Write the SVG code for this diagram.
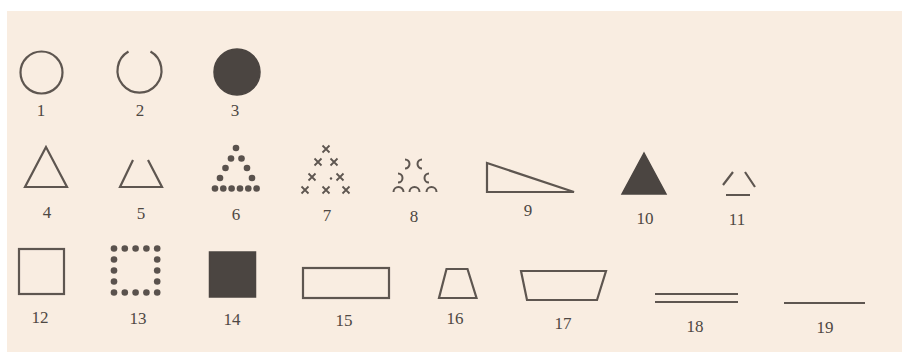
<svg xmlns="http://www.w3.org/2000/svg" width="902" height="356" viewBox="0 0 902 356">
<style>
.o{fill:none;stroke:#5e5650;stroke-width:2.2;stroke-linejoin:miter}
.f{fill:#4b4541;stroke:#4b4541;stroke-width:1.5}
.d{fill:#5a524d}
.x{stroke:#5e5650;stroke-width:1.8;fill:none}
.a{stroke:#5e5650;stroke-width:2;fill:none}
text{font-family:"Liberation Serif","Times New Roman",serif;font-size:17px;fill:#4e4843;text-anchor:middle}
</style>
<defs>
<circle id="dot" r="3.3" class="d"/>
<path id="xx" d="M-3.5,-3.5L3.5,3.5M3.5,-3.5L-3.5,3.5" class="x"/>
</defs>
<rect x="0" y="0" width="902" height="356" fill="#ffffff"/>
<rect x="7" y="11" width="895" height="341" fill="#f9ede1"/>

<g id="s1"><circle cx="41.5" cy="72.5" r="21" class="o"/><text x="41" y="116">1</text></g>
<g id="s2"><path d="M128.5,51.5 A22,22 0 1 0 150.5,51.5" class="o"/><text x="140" y="116">2</text></g>
<g id="s3"><circle cx="237" cy="72" r="23" class="f"/><text x="235" y="116">3</text></g>

<g id="s4"><polygon points="46,147 25,187 67,187" class="o"/><text x="47" y="218">4</text></g>
<g id="s5"><path d="M133,160 L120,187 L162,187 L148,160" class="o"/><text x="141" y="219">5</text></g>
<g id="s6">
<use href="#dot" x="236" y="148"/>
<use href="#dot" x="231" y="158.5"/><use href="#dot" x="241.5" y="158.5"/>
<use href="#dot" x="225.5" y="168"/><use href="#dot" x="247" y="168"/>
<use href="#dot" x="220" y="178"/><use href="#dot" x="252" y="178"/>
<use href="#dot" x="215" y="188.5"/><use href="#dot" x="223.3" y="188.5"/><use href="#dot" x="231.6" y="188.5"/><use href="#dot" x="240" y="188.5"/><use href="#dot" x="248.3" y="188.5"/><use href="#dot" x="256.6" y="188.5"/>
<text x="236" y="220">6</text></g>
<g id="s7">
<use href="#xx" x="326" y="149"/>
<use href="#xx" x="318" y="162"/><use href="#xx" x="334" y="162"/>
<use href="#xx" x="312" y="177"/><circle cx="331" cy="178.5" r="1.2" class="d"/><use href="#xx" x="340" y="177"/>
<use href="#xx" x="305" y="190"/><use href="#xx" x="326" y="190"/><use href="#xx" x="346" y="190"/>
<text x="327" y="221">7</text></g>
<g id="s8">
<path d="M405,159.5 A4.5,4.5 0 1 1 405,168.5" class="a"/>
<path d="M422,159.5 A4.5,4.5 0 1 0 422,168.5" class="a"/>
<path d="M398,173.5 A4.5,4.5 0 1 1 398,182.5" class="a"/>
<path d="M429,173.5 A4.5,4.5 0 1 0 429,182.5" class="a"/>
<path d="M393.5,192 A5,5 0 0 1 403.5,192" class="a"/>
<path d="M409.5,192 A5,5 0 0 1 419.5,192" class="a"/>
<path d="M426.5,192 A5,5 0 0 1 436.5,192" class="a"/>
<text x="414" y="222">8</text></g>
<g id="s9"><polygon points="487,163 487,192 574,192" class="o"/><text x="528" y="216">9</text></g>
<g id="s10"><polygon points="644,153 622,194 666,194" class="f"/><text x="645" y="224">10</text></g>
<g id="s11"><path d="M723,185 L733,172 M745,172 L755,187 M726,195 L750,195" class="o"/><text x="737" y="225">11</text></g>

<g id="s12"><rect x="19" y="249" width="45" height="45" class="o"/><text x="40" y="323">12</text></g>
<g id="s13">
<use href="#dot" x="114" y="248.5"/><use href="#dot" x="124.8" y="248.5"/><use href="#dot" x="135.6" y="248.5"/><use href="#dot" x="146.4" y="248.5"/><use href="#dot" x="157.2" y="248.5"/>
<use href="#dot" x="114" y="259.5"/><use href="#dot" x="157.2" y="259.5"/>
<use href="#dot" x="114" y="270.5"/><use href="#dot" x="157.2" y="270.5"/>
<use href="#dot" x="114" y="281.5"/><use href="#dot" x="157.2" y="281.5"/>
<use href="#dot" x="114" y="292.5"/><use href="#dot" x="124.8" y="292.5"/><use href="#dot" x="135.6" y="292.5"/><use href="#dot" x="146.4" y="292.5"/><use href="#dot" x="157.2" y="292.5"/>
<text x="138" y="324">13</text></g>
<g id="s14"><rect x="209.5" y="252" width="46" height="45" class="f"/><text x="232" y="325">14</text></g>
<g id="s15"><rect x="303" y="268" width="86" height="30" class="o"/><text x="344" y="326">15</text></g>
<g id="s16"><polygon points="446.5,269 467.5,269 476.5,298 439,298" class="o"/><text x="455" y="324">16</text></g>
<g id="s17"><polygon points="521,271 606,271 597,300 527,300" class="o"/><text x="563" y="329">17</text></g>
<g id="s18"><path d="M655,294 L738,294 M655,302 L738,302" class="o"/><text x="695" y="332">18</text></g>
<g id="s19"><path d="M784,303 L865,303" class="o"/><text x="825" y="333">19</text></g>
</svg>
